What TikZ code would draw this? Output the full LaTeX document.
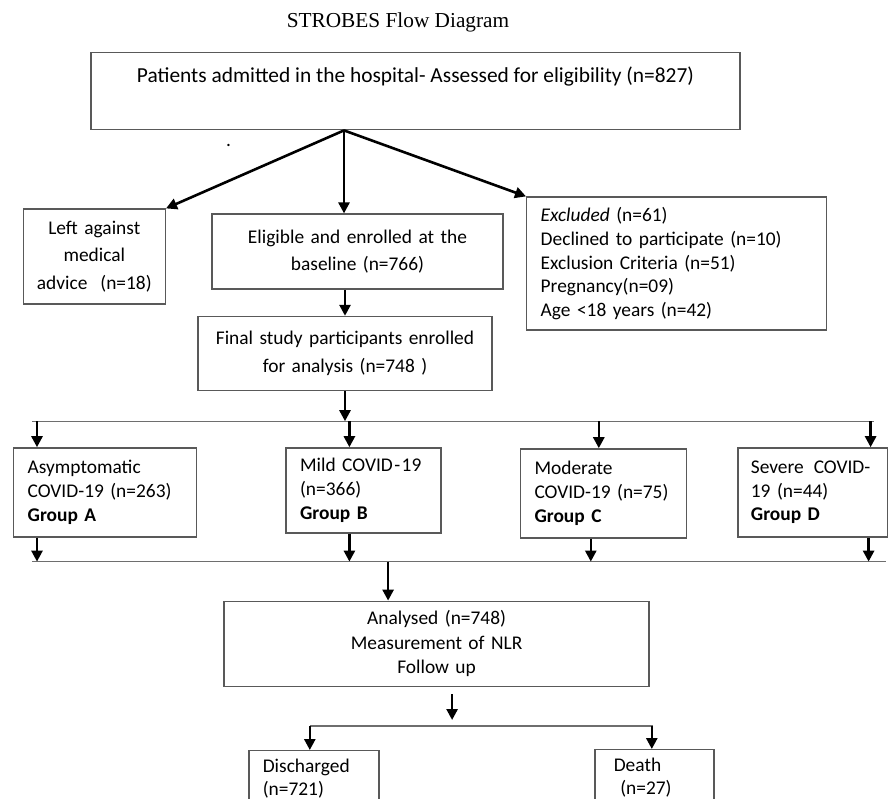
\documentclass[tikz,border=0pt]{standalone}
\usepackage{fontspec}
\setmainfont{Carlito}
\newfontfamily\titlefont{Liberation Serif}
\usepackage{tikz}
\usetikzlibrary{positioning, arrows.meta}
\definecolor{edgegray}{HTML}{595959}
\definecolor{busgray}{HTML}{6E6E6E}
\tikzset{
    box_base/.style={rectangle, draw=edgegray, line width=1.4pt, inner ysep=0pt},
    box_root/.style={box_base, inner sep=0pt, minimum width=649pt, text height=30pt, text depth=47pt, font=\fontsize{21.4}{26}\selectfont},
    box_step/.style={box_base, inner xsep=6pt, align=center, font=\fontsize{19.4}{27.5}\selectfont},
    box_list/.style={box_base, inner xsep=14pt, align=left, font=\fontsize{19.4}{23.7}\selectfont},
    flow/.style={draw=black, line width=2.6pt, -{Triangle[length=11pt, width=11pt]}},
    bus/.style={draw=busgray, line width=1.4pt}
}

\begin{document}
\begin{tikzpicture}[
            % Texto del titulo
            title_text/.style={font=\titlefont\fontsize{21.3}{25}\selectfont, inner sep=0pt},
            % Caja del analisis (centrada, interlineado simple)
            box_analysis/.style={
                box_base, inner xsep=6pt, align=center, font=\fontsize{19.4}{24.5}\selectfont
            }
        ]
            \useasboundingbox (0,0) rectangle (888pt,-798pt);
            \clip (0,0) rectangle (888pt,-798pt);

            % 1. Top: title and admitted patients
            \node[box_root, anchor=north] (root) at (415.5pt,-52pt) {Patients admitted in the hospital- Assessed for eligibility (n=827)};
            \node[title_text, anchor=base] (title) at ([xshift=-17.5pt, yshift=25pt]root.north) {STROBES Flow Diagram};
            \node[anchor=base, inner sep=0pt, font=\fontsize{19.4}{23}\selectfont] (stray) at (228.5pt,-146pt) {.};

            % Split point under the first box
            \coordinate (split) at ([xshift=-71.5pt]root.south);

            % 2. Three branches
            \node[box_step, text width=130pt, minimum height=95pt, below left=78pt and 178pt of split] (lama) {
                Left against\\medical\\advice~ (n=18)
            };

            \node[box_step, text width=279pt, minimum height=75pt, below=83pt of split, xshift=13.5pt] (elig) {
                Eligible and enrolled at the\\baseline (n=766)
            };

            \node[box_list, text width=272pt, minimum height=133pt, below right=66pt and 182pt of split] (excl) {
                \textit{Excluded} (n=61)\\
                Declined to participate (n=10)\\
                Exclusion Criteria (n=51)\\
                Pregnancy(n=09)\\
                Age <18 years (n=42)
            };

            \node[box_step, text width=282pt, minimum height=74pt, below=26pt of elig, xshift=-12.5pt] (final) {
                Final study participants enrolled\\for analysis (n=748 )
            };

            % 3. Severity groups
            \coordinate (bt) at ([yshift=-30pt]final.south);

            \node[box_list, text width=155pt, minimum height=89pt, anchor=north west] (ga) at ([xshift=-332pt, yshift=-56pt]final.south) {
                Asymptomatic\\COVID-19 (n=263)\\\textbf{Group A}
            };
            \node[box_list, text width=127pt, minimum height=85pt, right=88pt of ga.north east, anchor=north west] (gb) {
                Mild COVID\kern1.5pt-\kern1.5pt19\\(n=366)\\\textbf{Group B}
            };
            \node[box_list, text width=138pt, minimum height=89pt, right=78pt of gb.north east, anchor=north west, yshift=-1pt] (gc) {
                Moderate\\COVID-19 (n=75)\\\textbf{Group C}
            };
            \node[box_list, inner xsep=13pt, text width=124pt, minimum height=89pt, right=50pt of gc.north east, anchor=north west, yshift=1pt] (gd) {
                Severe\hspace{10pt}COVID-\\19 (n=44)\\\textbf{Group D}
            };

            \coordinate (bb) at ([yshift=-24pt]ga.south);

            % 4. Analysis and outcome
            \node[box_analysis, text width=413pt, minimum height=85pt, below=67pt of gb.south, xshift=73pt] (anal) {
                Analysed (n=748)\\Measurement of NLR\\Follow up
            };

            \coordinate (ds) at ([xshift=15.5pt, yshift=-39pt]anal.south);

            \node[box_list, text width=102pt, minimum height=56pt, anchor=north west] (dis) at ([xshift=-204pt, yshift=-24pt]ds) {
                Discharged\\(n=721)
            };
            \node[box_list, inner xsep=19pt, text width=81pt, minimum height=56pt, anchor=north west] (death) at ([xshift=142pt, yshift=-23pt]ds) {
                Death\\~(n=27)
            };

            % --- CONNECTIONS ---

            % From the admitted patients to the three branches
            \draw[flow] (split) -- (lama.north east);
            \draw[flow] (split) -- ([xshift=-13.5pt]elig.north);
            \draw[flow] (split) -- (excl.north west);

            % Enrolled to final participants
            \draw[flow] (elig.south -| final.south) -- (final.north);

            % Upper bus to the four groups
            \draw[flow] (final.south) -- (bt);
            \draw[bus] ([xshift=19pt]ga.north west |- bt) -- ([xshift=-15pt]gd.north east |- bt);
            \draw[flow] ([xshift=24pt]ga.north west |- bt) -- ([xshift=24pt]ga.north west);
            \draw[flow] ([xshift=64pt]gb.north west |- bt) -- ([xshift=64pt]gb.north west);
            \draw[flow] ([xshift=79pt]gc.north west |- bt) -- ([xshift=79pt]gc.north west);
            \draw[flow] ([xshift=-18pt]gd.north east |- bt) -- ([xshift=-18pt]gd.north east);

            % Groups down to the lower bus
            \draw[bus] ([xshift=19pt]ga.south west |- bb) -- ([xshift=-3pt]gd.south east |- bb);
            \draw[flow] ([xshift=24pt]ga.south west) -- ([xshift=24pt]ga.south west |- bb);
            \draw[flow] ([xshift=64pt]gb.south west) -- ([xshift=64pt]gb.south west |- bb);
            \draw[flow] ([xshift=71pt]gc.south west) -- ([xshift=71pt]gc.south west |- bb);
            \draw[flow] ([xshift=-20pt]gd.south east) -- ([xshift=-20pt]gd.south east |- bb);

            % Lower bus to the analysis
            \draw[flow] ([xshift=-48.5pt]anal.north |- bb) -- ([xshift=-48.5pt]anal.north);

            % Analysis to the outcomes
            \draw[flow] ([yshift=32pt]ds) -- ([yshift=6pt]ds);
            \draw[bus] ([xshift=-4pt]dis.north |- ds) -- ([xshift=-1.5pt]death.north |- ds);
            \draw[flow] ([xshift=-4pt]dis.north |- ds) -- ([xshift=-4pt]dis.north);
            \draw[flow] ([xshift=-2.5pt]death.north |- ds) -- ([xshift=-2.5pt]death.north);

        \end{tikzpicture}
\end{document}
